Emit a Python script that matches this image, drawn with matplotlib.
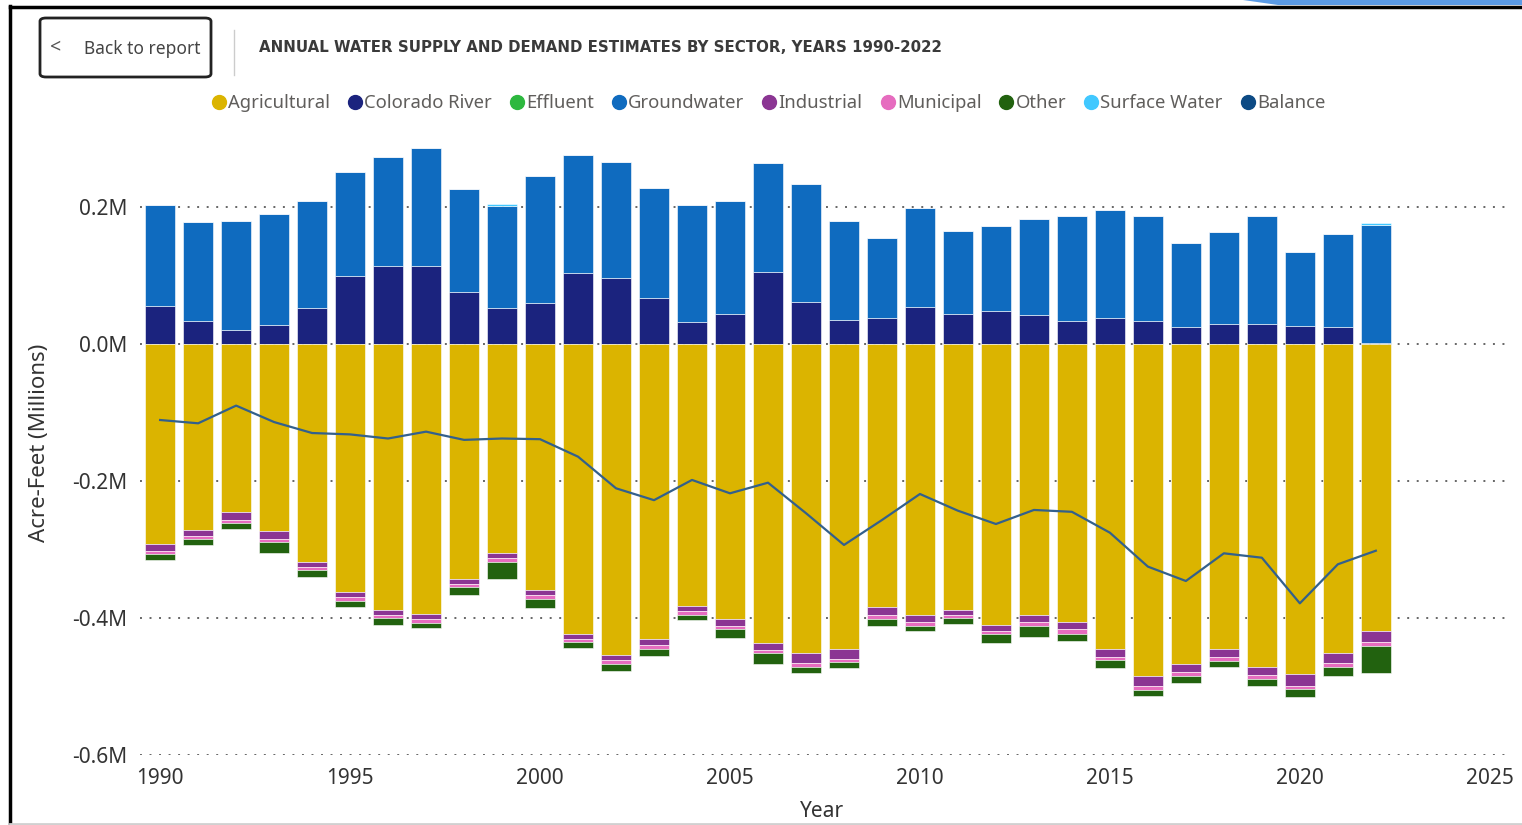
import matplotlib
matplotlib.use("Agg")
import matplotlib.pyplot as plt
import numpy as np
from matplotlib.lines import Line2D
from matplotlib.patches import FancyBboxPatch, Polygon

# values in millions of acre-feet
years = list(range(1990, 2023))

colorado_river = [0.055, 0.034, 0.020, 0.028, 0.053, 0.099, 0.114, 0.114, 0.076, 0.053,
                  0.060, 0.104, 0.096, 0.067, 0.032, 0.044, 0.105, 0.061, 0.035, 0.038,
                  0.054, 0.044, 0.048, 0.042, 0.034, 0.038, 0.034, 0.025, 0.029, 0.029,
                  0.026, 0.025, 0.002]
groundwater = [0.148, 0.144, 0.160, 0.162, 0.156, 0.152, 0.159, 0.172, 0.150, 0.149,
               0.185, 0.172, 0.170, 0.161, 0.171, 0.165, 0.159, 0.173, 0.145, 0.117,
               0.145, 0.121, 0.124, 0.140, 0.153, 0.158, 0.153, 0.122, 0.134, 0.158,
               0.108, 0.136, 0.171]
surface_water = [0, 0, 0, 0, 0, 0, 0, 0, 0, 0.002,
                 0, 0, 0, 0, 0, 0, 0, 0, 0, 0,
                 0, 0, 0, 0, 0, 0, 0, 0, 0, 0,
                 0, 0, 0.004]
agricultural = [0.292, 0.2715, 0.246, 0.273, 0.318, 0.3616, 0.389, 0.394, 0.3435, 0.3056,
                0.359, 0.423, 0.454, 0.431, 0.3825, 0.402, 0.436, 0.4515, 0.4457, 0.3835,
                0.396, 0.388, 0.41, 0.3956, 0.406, 0.445, 0.485, 0.4667, 0.445, 0.471,
                0.4818, 0.451, 0.419]
industrial = [0.010, 0.0088, 0.0107, 0.0117, 0.0073, 0.0073, 0.0067, 0.0078, 0.0073, 0.0069,
              0.0078, 0.0077, 0.0073, 0.0083, 0.0073, 0.0098, 0.0107, 0.0137, 0.0137, 0.0121,
              0.0093, 0.0073, 0.0088, 0.0102, 0.0107, 0.0117, 0.0142, 0.0117, 0.0126, 0.0126,
              0.0171, 0.015, 0.0165]
municipal = [0.0044, 0.0044, 0.0048, 0.0044, 0.0044, 0.0058, 0.005, 0.0058, 0.0044, 0.0054,
             0.0054, 0.005, 0.0058, 0.0054, 0.0058, 0.0048, 0.0048, 0.0058, 0.0048, 0.0063,
             0.0063, 0.0048, 0.0053, 0.0054, 0.0064, 0.0053, 0.0058, 0.0063, 0.0058, 0.0058,
             0.0048, 0.0058, 0.0054]
other = [0.0088, 0.0088, 0.0088, 0.0156, 0.0098, 0.0097, 0.0092, 0.0064, 0.0117, 0.0248,
         0.0127, 0.0088, 0.0098, 0.0107, 0.0073, 0.0123, 0.016, 0.0088, 0.0092, 0.0093,
         0.0073, 0.0088, 0.0131, 0.016, 0.0102, 0.0108, 0.0088, 0.0107, 0.0083, 0.0098,
         0.0112, 0.0127, 0.040]
balance = [-0.111, -0.1158, -0.090, -0.114, -0.130, -0.132, -0.138, -0.128, -0.140, -0.138,
           -0.139, -0.1645, -0.2107, -0.228, -0.1985, -0.218, -0.2025, -0.247, -0.2934, -0.257,
           -0.219, -0.2434, -0.2628, -0.2423, -0.245, -0.2755, -0.325, -0.346, -0.3056, -0.312,
           -0.3786, -0.3216, -0.3018]

legend_names = ["Agricultural", "Colorado River", "Effluent", "Groundwater", "Industrial",
                "Municipal", "Other", "Surface Water", "Balance"]
colors = {"Agricultural": "#DBB400", "Colorado River": "#1B237E", "Effluent": "#2DB83F",
          "Groundwater": "#0F6BBF", "Industrial": "#8B3593", "Municipal": "#E66CBF",
          "Other": "#22620F", "Surface Water": "#41C8FF", "Balance": "#0C4A84"}

font = ["Noto Sans", "DejaVu Sans"]
txt = "#333333"

fig = plt.figure(figsize=(15.22, 8.25), dpi=100)
ax = fig.add_axes([140 / 1522, 1 - 755 / 825, (1505 - 140) / 1522, (755 - 131.6) / 825])

x = np.array(years)
w = 0.79

# supply (positive side)
bottom = np.zeros(len(x))
for name, vals in [("Colorado River", colorado_river), ("Groundwater", groundwater),
                   ("Surface Water", surface_water)]:
    v = np.array(vals)
    ax.bar(x, v, w, bottom=bottom, color=colors[name], edgecolor="white", linewidth=0.4, zorder=2)
    bottom += v

# demand (negative side)
bottom = np.zeros(len(x))
for name, vals in [("Agricultural", agricultural), ("Industrial", industrial),
                   ("Municipal", municipal), ("Other", other)]:
    v = -np.array(vals)
    ax.bar(x, v, w, bottom=bottom, color=colors[name], edgecolor="white", linewidth=0.4, zorder=2)
    bottom += v

ax.plot(x, balance, color="#33608C", linewidth=1.6, zorder=3)

ax.set_xlim(1989.47, 2025.4)
ax.set_ylim(-0.6, 0.31)
ax.set_yticks([0.2, 0.0, -0.2, -0.4, -0.6])
ax.set_yticklabels(["0.2M", "0.0M", "-0.2M", "-0.4M", "-0.6M"])
ax.set_xticks([1990, 1995, 2000, 2005, 2010, 2015, 2020, 2025])
ax.tick_params(length=0, labelsize=15, labelcolor=txt, pad=9)
ax.tick_params(axis="x", pad=9)
for lab in ax.get_xticklabels() + ax.get_yticklabels():
    lab.set_family(font)
ax.grid(axis="y", linestyle=(0, (1, 3.9)), linewidth=1.4, color="#666666", zorder=0)
ax.set_axisbelow(True)
for s in ax.spines.values():
    s.set_visible(False)
ax.set_ylabel("Acre-Feet (Millions)", fontsize=16, color=txt, family=font, labelpad=16)
ax.set_xlabel("Year", fontsize=15, color=txt, family=font, labelpad=9)

handles = [Line2D([], [], marker="o", linestyle="", markersize=10,
                  markerfacecolor=colors[n], markeredgecolor=colors[n]) for n in legend_names]
leg = fig.legend(handles, legend_names, loc="center", bbox_to_anchor=(766.5 / 1522, 1 - 103 / 825),
                 ncol=9, frameon=False, handletextpad=-0.1, columnspacing=0.75, handlelength=1.2,
                 prop={"family": font, "size": 13.3})
for t in leg.get_texts():
    t.set_color("#605E5C")

# header: back button, separator and title
fig.patches.append(FancyBboxPatch((40 / 1522, 1 - 77 / 825), 171 / 1522, 59 / 825,
                                  boxstyle="round,pad=0,rounding_size=0.004",
                                  transform=fig.transFigure, facecolor="white",
                                  edgecolor="#222222", linewidth=2))
fig.text(50 / 1522, 1 - 47 / 825, "<", fontsize=14, color="#555555", family=font,
         va="center", fontweight="light")
fig.text(84 / 1522, 1 - 49.5 / 825, "Back to report", fontsize=12.5, color="#444444",
         family=font, va="center")
fig.add_artist(Line2D([234 / 1522, 234 / 1522], [1 - 30 / 825, 1 - 75 / 825],
                      color="#cccccc", linewidth=1, transform=fig.transFigure))
fig.text(259 / 1522, 1 - 48 / 825,
         "ANNUAL WATER SUPPLY AND DEMAND ESTIMATES BY SECTOR, YEARS 1990-2022",
         fontsize=10.8, fontweight="bold", color="#3A3A3A", family=["DejaVu Sans"],
         va="center")

# screenshot frame
fig.add_artist(Line2D([10 / 1522, 10 / 1522], [0, 1 - 6 / 825], color="black", linewidth=2.5,
                      transform=fig.transFigure))
fig.add_artist(Line2D([10 / 1522, 1], [1 - 7 / 825, 1 - 7 / 825], color="black", linewidth=2.5,
                      transform=fig.transFigure))
fig.add_artist(Line2D([10 / 1522, 1], [1 - 823.5 / 825, 1 - 823.5 / 825], color="#d0d0d0",
                      linewidth=2, transform=fig.transFigure))
fig.patches.append(Polygon([(1243 / 1522, 1), (1 , 1), (1, 1 - 5 / 825), (1278 / 1522, 1 - 5 / 825)],
                           closed=True, transform=fig.transFigure, facecolor="#5B9BE6",
                           edgecolor="none"))

fig.savefig("out.png", dpi=100)
